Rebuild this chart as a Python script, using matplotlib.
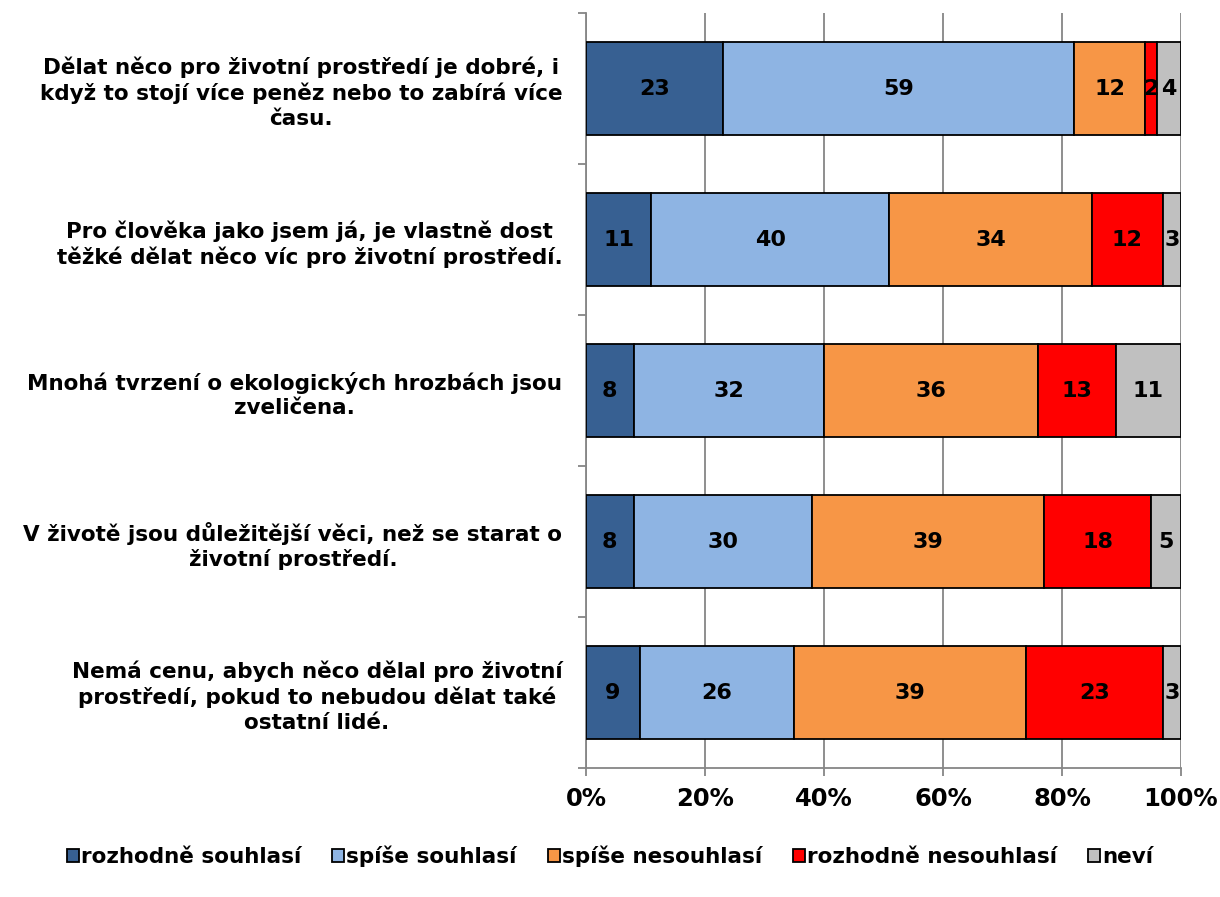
import numpy as np
import matplotlib.pyplot as plt
from matplotlib.ticker import FixedLocator, PercentFormatter

plt.rcParams['font.family'] = ['DejaVu Sans']
plt.rcParams['font.weight'] = 'bold'

questions = [
    "Dělat něco pro životní prostředí je dobré, i\nkdyž to stojí více peněz nebo to zabírá více\nčasu.",
    "Pro člověka jako jsem já, je vlastně dost\ntěžké dělat něco víc pro životní prostředí.",
    "Mnohá tvrzení o ekologických hrozbách jsou\nzveličena.",
    "V životě jsou důležitější věci, než se starat o\nživotní prostředí.",
    "Nemá cenu, abych něco dělal pro životní\nprostředí, pokud to nebudou dělat také\nostatní lidé.",
]
series = ["rozhodně souhlasí", "spíše souhlasí", "spíše nesouhlasí",
          "rozhodně nesouhlasí", "neví"]
rozhodne_souhlasi = [23, 11, 8, 8, 9]
spise_souhlasi = [59, 40, 32, 30, 26]
spise_nesouhlasi = [12, 34, 36, 39, 39]
rozhodne_nesouhlasi = [2, 12, 13, 18, 23]
nevi = [4, 3, 11, 5, 3]
colors = ["#376092", "#8EB4E3", "#F79646", "#FF0000", "#C0C0C0"]

data = np.array([rozhodne_souhlasi, spise_souhlasi, spise_nesouhlasi,
                 rozhodne_nesouhlasi, nevi], dtype=float)
shares = data / data.sum(axis=0)

fig = plt.figure(figsize=(12.2, 8.97), dpi=100)
ax = fig.add_axes([0.4803, 0.1438, 0.4877, 0.8417])

y = np.arange(len(questions))
left = np.zeros(len(questions))
for i, name in enumerate(series):
    bars = ax.barh(y, shares[i], left=left, height=0.62, color=colors[i],
                   edgecolor="black", linewidth=1.3, label=name, zorder=3)
    for j, b in enumerate(bars):
        ax.text(left[j] + shares[i][j] / 2, y[j], f"{int(data[i][j])}",
                ha="center", va="center", fontsize=16, fontweight="bold",
                zorder=4)
    left += shares[i]

ax.set_xlim(0, 1)
ax.set_ylim(len(questions) - 0.5, -0.5)
ax.xaxis.set_major_locator(FixedLocator([0, 0.2, 0.4, 0.6, 0.8, 1.0]))
ax.xaxis.set_major_formatter(PercentFormatter(1.0, decimals=0))
ax.grid(axis="x", color="#868686", linewidth=1.3, zorder=0)
ax.tick_params(axis="x", length=6, width=1.3, color="#868686",
               labelsize=17.5, pad=8)

ax.set_yticks(y)
ax.set_yticklabels(questions, fontsize=15.5, fontweight="bold",
                   linespacing=1.27, multialignment="center")
ax.tick_params(axis="y", length=0, pad=17)
ax.yaxis.set_minor_locator(FixedLocator(np.arange(-0.5, len(questions), 1)))
ax.tick_params(axis="y", which="minor", length=6, width=1.3, color="#868686")

for s in ["top", "right"]:
    ax.spines[s].set_visible(False)
for s in ["left", "bottom"]:
    ax.spines[s].set_color("#868686")
    ax.spines[s].set_linewidth(1.3)

fig.legend(loc="center", bbox_to_anchor=(0.5, 0.045), ncol=5, frameon=False,
           handlelength=0.55, handleheight=0.55, handletextpad=0.1,
           columnspacing=1.45, prop={"weight": "bold", "size": 15.5})

plt.savefig("out.png", dpi=100)
